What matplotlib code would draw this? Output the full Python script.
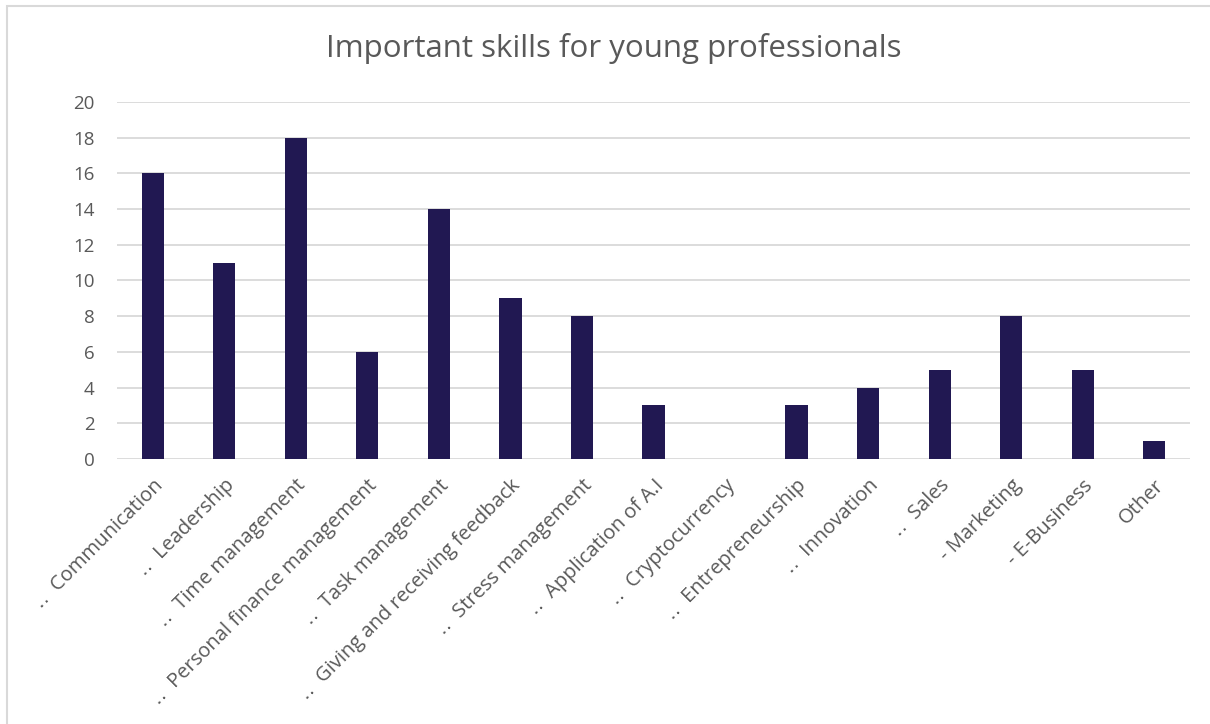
import matplotlib.pyplot as plt
import matplotlib.patches as mpatches
import numpy as np

skills = ['Communication', 'Leadership', 'Time management', 'Personal finance management',
          'Task management', 'Giving and receiving feedback', 'Stress management',
          'Application of A.I', 'Cryptocurrency', 'Entrepreneurship', 'Innovation',
          'Sales', 'Marketing', 'E-Business', 'Other']
prefixes = ['‥  ', '‥  ', '‥  ', '‥  ', '‥  ', '‥  ', '‥  ', '‥  ', '‥  ', '‥  ',
            '‥  ', '‥  ', '- ', '- ', '']
counts = [16, 11, 18, 6, 14, 9, 8, 3, 0, 3, 4, 5, 8, 5, 1]

plt.rcParams['font.family'] = ['Open Sans', 'DejaVu Sans']
grey = '#595959'

fig = plt.figure(figsize=(12.1, 7.24), dpi=100)
ax = fig.add_axes([117/1210, 1 - 459/724, 1073/1210, 357/724])

x = np.arange(len(skills))
ax.bar(x, counts, width=0.31, color='#211852', zorder=3)

ax.set_xlim(-0.5, len(skills) - 0.5)
ax.set_ylim(0, 20)
ax.set_yticks(range(0, 21, 2))
ax.yaxis.grid(True, color='#d9d9d9', linewidth=1.3, zorder=0)
for s in ax.spines.values():
    s.set_visible(False)
ax.tick_params(axis='both', length=0, colors=grey)
ax.tick_params(axis='y', pad=16, labelsize=13.5)

ax.set_xticks(x)
ax.set_xticklabels([p + s for p, s in zip(prefixes, skills)], rotation=45,
                   ha='right', rotation_mode='anchor')
ax.tick_params(axis='x', pad=12, labelsize=14.5)

fig.text(614/1210, 1 - 49/724, 'Important skills for young professionals',
         ha='center', va='center', fontsize=22.5, color=grey)

# chart frame
fig.patches.append(mpatches.Rectangle((7/1210, -0.1), 1.2, 1 - 6/724 + 0.1,
                                      transform=fig.transFigure, fill=False,
                                      edgecolor='#d9d9d9', linewidth=1.5))

fig.savefig('out.png', dpi=100)
